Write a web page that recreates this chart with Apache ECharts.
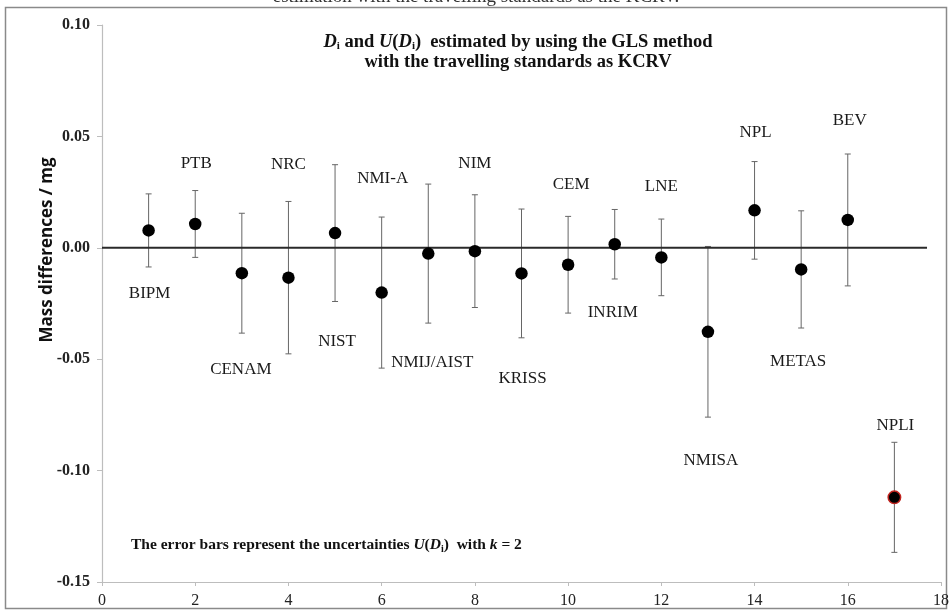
<!DOCTYPE html>
<html>
<head>
<meta charset="utf-8">
<script src="https://cdn.jsdelivr.net/npm/echarts@6/dist/echarts.min.js"></script>
<style>
  html, body { margin: 0; padding: 0; background: #fff; }
  #main { width: 952px; height: 614px; }
</style>
</head>
<body>
<div id="main"></div>
<script>
  // participants, in the order of the x axis (1..17)
  var labs = ['BIPM','PTB','CENAM','NRC','NIST','NMI-A','NMIJ/AIST','NIM','KRISS','CEM','INRIM','LNE','NMISA','NPL','METAS','BEV','NPLI'];
  var xPos = [1,2,3,4,5,6,7,8,9,10,11,12,13,14,15,16,17];
  // D_i / mg
  var dVals = [0.0078, 0.0107, -0.0114, -0.0134, 0.0066, -0.0201, -0.0026, -0.0015, -0.0115, -0.0076, 0.0016, -0.0043, -0.0377, 0.0168, -0.0097, 0.0125, -0.1120];
  // U(D_i) / mg, k = 2
  var uVals = [0.0164, 0.0150, 0.0269, 0.0342, 0.0307, 0.0339, 0.0312, 0.0253, 0.0289, 0.0217, 0.0156, 0.0172, 0.0383, 0.0219, 0.0263, 0.0296, 0.0247];
  // KCRV reference line
  var refX = [0, 17.7];
  var refY = [0, 0];
  var xTicks = [0, 18, 2];
  var yTicks = [-0.15, 0.10, 0.05];

  // where each name sits relative to its dot (px)
  var labelOffsets = [[1,63],[1,-60],[-1,96],[0,-113],[2,108],[1,-114],[4,109],[0,-88],[1,105],[3,-80],[-2,68],[0,-71],[3,129],[1,-78],[-3,92],[2,-99],[1,-72]];

  var serif = '"Liberation Serif", "DejaVu Serif", serif';

  var chart = echarts.init(document.getElementById('main'), null, {renderer: 'canvas'});

  var pts = xPos.map(function (x, i) {
    var item = {
      name: labs[i],
      value: [x, dVals[i]],
      label: { offset: labelOffsets[i] }
    };
    if (labs[i] === 'NPLI') {
      item.itemStyle = { color: '#000', borderColor: '#c0231e', borderWidth: 1.5 };
    }
    return item;
  });

  var bars = xPos.map(function (x, i) { return [x, dVals[i], uVals[i]]; });

  var options = {
    animation: false,
    backgroundColor: '#fff',
    grid: { left: 102, right: 10, top: 25, bottom: 32 },
    graphic: [
      { // outer frame
        type: 'rect', silent: true, z: -10,
        shape: { x: 5.5, y: 7.5, width: 941, height: 601 },
        style: { fill: 'none', stroke: '#8a8a8a', lineWidth: 1.5 }
      },
      { // cut-off caption above the frame
        type: 'text', left: 'center', top: -12,
        style: { text: 'estimation with the travelling standards as the KCRV.', font: '19px ' + serif, fill: '#333' }
      },
      {
        type: 'text', x: 518, y: 42,
        style: {
          text: '{it|D}{sub|i}{b| and }{it|U}{b|(}{it|D}{sub|i}{b|)  estimated by using the GLS method}',
          align: 'center', verticalAlign: 'middle',
          rich: {
            b: { font: 'bold 18.5px ' + serif, fill: '#111' },
            it: { font: 'italic bold 18.5px ' + serif, fill: '#111' },
            sub: { font: 'bold 11px ' + serif, fill: '#111', padding: [9, 0, 0, 0] }
          }
        }
      },
      {
        type: 'text', x: 518, y: 62,
        style: { text: 'with the travelling standards as KCRV', align: 'center', verticalAlign: 'middle', font: 'bold 18.5px ' + serif, fill: '#111' }
      },
      {
        type: 'text', x: 131, y: 545,
        style: {
          text: '{b|The error bars represent the uncertainties }{it|U}{b|(}{it|D}{sub|i}{b|)  with }{it|k}{b| = 2}',
          align: 'left', verticalAlign: 'middle',
          rich: {
            b: { font: 'bold 15.5px ' + serif, fill: '#111' },
            it: { font: 'italic bold 15.5px ' + serif, fill: '#111' },
            sub: { font: 'bold 10px ' + serif, fill: '#111', padding: [8, 0, 0, 0] }
          }
        }
      },
      { // y axis title
        type: 'text', x: 47, y: 250, rotation: Math.PI / 2,
        style: {
          text: 'Mass differences / mg', align: 'center', verticalAlign: 'middle',
          font: 'bold 17px "Open Sans", "Liberation Sans", sans-serif', fill: '#111'
        }
      }
    ],
    xAxis: {
      type: 'value',
      min: xTicks[0], max: xTicks[1], interval: xTicks[2],
      axisLine: { onZero: false, lineStyle: { color: '#bdbdbd', width: 1.2 } },
      axisTick: { show: true, length: 4, lineStyle: { color: '#bdbdbd' } },
      axisLabel: { color: '#222', fontFamily: serif, fontSize: 16, margin: 11 },
      splitLine: { show: false }
    },
    yAxis: {
      type: 'value',
      min: yTicks[0], max: yTicks[1], interval: yTicks[2],
      axisLine: { show: true, onZero: false, lineStyle: { color: '#bdbdbd', width: 1.2 } },
      axisTick: { show: true, length: 5, lineStyle: { color: '#bdbdbd' } },
      axisLabel: {
        color: '#222', fontFamily: serif, fontWeight: 'bold', fontSize: 16, margin: 12,
        formatter: function (v) { return v.toFixed(2); }
      },
      splitLine: { show: false }
    },
    series: [
      {
        type: 'custom',
        z: 1,
        renderItem: function (params, api) {
          var x = api.value(0), y = api.value(1), u = api.value(2);
          var top = api.coord([x, y + u]);
          var bot = api.coord([x, y - u]);
          var cw = 3;
          var st = { stroke: '#666', lineWidth: 1 };
          return {
            type: 'group',
            children: [
              { type: 'line', shape: { x1: top[0], y1: top[1], x2: bot[0], y2: bot[1] }, style: st },
              { type: 'line', shape: { x1: top[0] - cw, y1: top[1], x2: top[0] + cw, y2: top[1] }, style: st },
              { type: 'line', shape: { x1: bot[0] - cw, y1: bot[1], x2: bot[0] + cw, y2: bot[1] }, style: st }
            ]
          };
        },
        data: bars
      },
      {
        type: 'line',
        z: 2,
        symbol: 'none',
        lineStyle: { color: '#2a2a2a', width: 2 },
        data: refX.map(function (x, i) { return [x, refY[i]]; })
      },
      {
        type: 'scatter',
        z: 3,
        symbolSize: 12.5,
        itemStyle: { color: '#000', opacity: 1 },
        label: {
          show: true,
          position: 'inside',
          formatter: '{b}',
          color: '#1a1a1a',
          fontFamily: serif,
          fontSize: 17
        },
        data: pts
      }
    ]
  };

  chart.setOption(options);
</script>
</body>
</html>
